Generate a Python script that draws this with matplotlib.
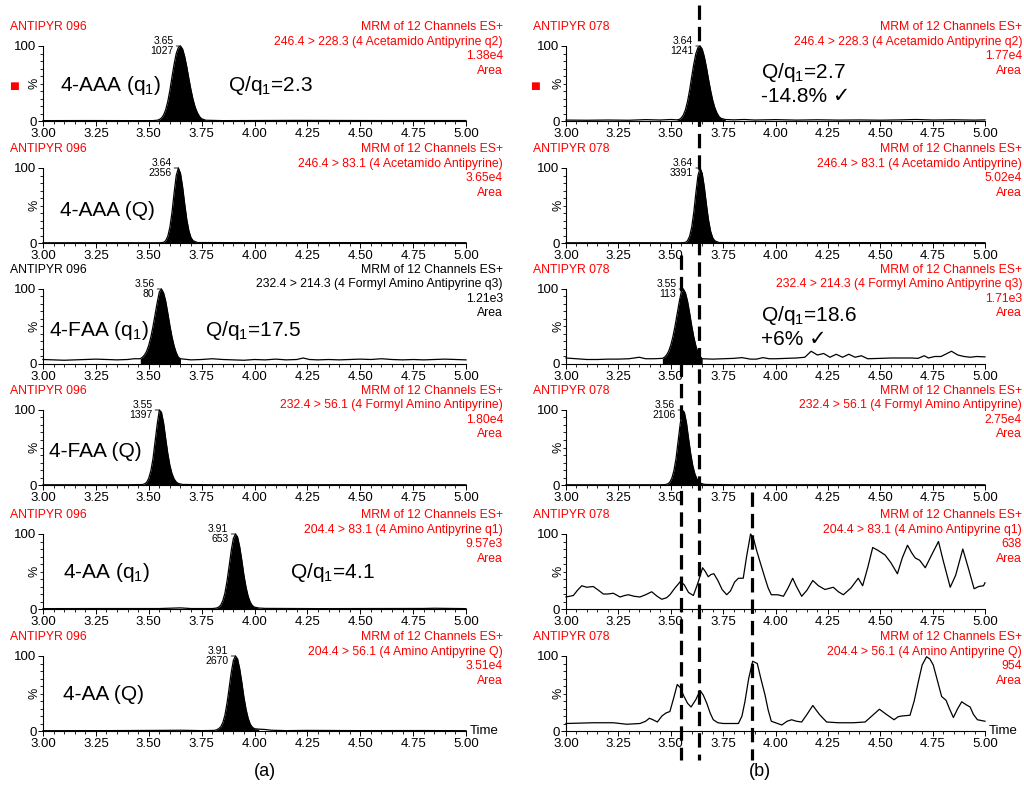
import numpy as np
import matplotlib
matplotlib.use("Agg")
from matplotlib import pyplot as plt
from matplotlib.lines import Line2D
from matplotlib.ticker import MultipleLocator, FixedLocator
from matplotlib.transforms import blended_transform_factory

plt.rcParams['font.family'] = ['Liberation Sans', 'DejaVu Sans']
plt.rcParams['mathtext.fontset'] = 'custom'
plt.rcParams['mathtext.rm'] = 'Liberation Sans'
plt.rcParams['mathtext.default'] = 'regular'

RED = '#ff0000'

# ---- chromatogram traces (time, % intensity) ----
# (a) sample ANTIPYR 096
l1_t = [3.00, 3.20, 3.40, 3.52, 3.54, 3.55, 3.56, 3.57, 3.58, 3.59, 3.60, 3.61, 3.62, 3.63, 3.64, 3.65, 3.66,
        3.67, 3.68, 3.69, 3.70, 3.71, 3.72, 3.73, 3.74, 3.75, 3.77, 3.85, 4.20, 4.60, 5.00]
l1_y = [0.5, 0.6, 0.5, 0.5, 1, 2, 4, 8, 15, 26, 41, 59, 76, 90, 98, 100, 96,
        86, 72, 56, 41, 28, 18, 11, 6, 3, 1, 0.5, 0.8, 0.6, 0.6]
l2_t = [3.00, 3.30, 3.55, 3.57, 3.58, 3.59, 3.60, 3.61, 3.62, 3.63, 3.64, 3.65, 3.66, 3.67, 3.68, 3.69, 3.70,
        3.71, 3.73, 4.00, 4.50, 5.00]
l2_y = [0.3, 0.4, 0.3, 0.8, 3, 9, 21, 41, 67, 90, 100, 93, 75, 52, 31, 16, 7,
        3, 0.6, 0.4, 0.5, 0.4]
l3_t = [3.00, 3.05, 3.10, 3.15, 3.20, 3.25, 3.30, 3.35, 3.40, 3.43, 3.46, 3.47, 3.48, 3.49, 3.50, 3.51, 3.52,
        3.53, 3.54, 3.55, 3.56, 3.57, 3.58, 3.59, 3.60, 3.61, 3.62, 3.63, 3.64, 3.65, 3.70, 3.75, 3.80, 3.85,
        3.90, 3.95, 4.00, 4.05, 4.10, 4.15, 4.20, 4.23, 4.26, 4.30, 4.35, 4.40, 4.45, 4.50, 4.55, 4.60, 4.65,
        4.70, 4.75, 4.80, 4.85, 4.90, 4.95, 5.00]
l3_y = [6, 5.5, 5, 5.5, 6, 6.5, 6, 5.5, 6, 7, 7, 9, 12, 17, 25, 36, 50,
        66, 82, 96, 100, 95, 84, 68, 51, 36, 24, 15, 9, 7, 5.5, 6, 7, 6,
        5.5, 5, 6, 5.5, 6.5, 5.5, 6, 8, 6, 5.5, 6, 5.5, 6, 6.5, 6, 7, 6,
        5.5, 6, 5.5, 6, 6.5, 6, 5.5]
l4_t = [3.00, 3.40, 3.47, 3.48, 3.49, 3.50, 3.51, 3.52, 3.53, 3.54, 3.55, 3.56, 3.57, 3.58, 3.59, 3.60, 3.61,
        3.62, 3.63, 3.64, 3.66, 3.80, 4.40, 5.00]
l4_y = [0.3, 0.3, 0.6, 1.5, 3.5, 9, 19, 35, 58, 81, 100, 97, 83, 62, 42, 26, 15,
        8, 4, 2, 0.7, 0.3, 0.4, 0.3]
l5_t = [3.00, 3.30, 3.55, 3.65, 3.70, 3.80, 3.82, 3.83, 3.84, 3.85, 3.86, 3.87, 3.88, 3.89, 3.90, 3.91, 3.92,
        3.93, 3.94, 3.95, 3.96, 3.97, 3.98, 3.99, 4.00, 4.02, 4.05, 4.30, 4.80, 4.85, 5.00]
l5_y = [0.5, 0.6, 0.6, 1.5, 0.6, 0.6, 1.2, 2.5, 5, 11, 21, 37, 57, 78, 94, 100, 96,
        83, 65, 45, 29, 17, 9, 4.5, 2.5, 1.3, 0.8, 0.5, 0.7, 1, 0.5]
l6_t = [3.00, 3.30, 3.55, 3.65, 3.75, 3.81, 3.82, 3.83, 3.84, 3.85, 3.86, 3.87, 3.88, 3.89, 3.90, 3.91, 3.92,
        3.93, 3.94, 3.95, 3.96, 3.97, 3.98, 3.99, 4.00, 4.02, 4.05, 4.08, 4.15, 4.25, 4.50, 4.80, 5.00]
l6_y = [0.4, 0.5, 0.8, 1, 0.5, 0.8, 1.5, 3, 5.5, 11, 21, 37, 57, 78, 94, 100, 96,
        83, 65, 45, 29, 17, 9, 5, 3, 2.5, 2, 1, 0.5, 0.8, 0.5, 0.6, 0.4]

# (b) sample ANTIPYR 078
r1_t = [3.00, 3.10, 3.20, 3.30, 3.38, 3.45, 3.50, 3.53, 3.54, 3.55, 3.56, 3.57, 3.58, 3.59, 3.60, 3.61, 3.62,
        3.63, 3.64, 3.65, 3.66, 3.67, 3.68, 3.69, 3.70, 3.71, 3.72, 3.73, 3.74, 3.76, 3.80, 3.85, 3.90, 4.00,
        4.10, 4.20, 4.30, 4.40, 4.50, 4.60, 4.67, 4.75, 4.85, 4.95, 5.00]
r1_y = [1.2, 1, 1.3, 1, 1.8, 1.3, 2, 1.5, 2, 4, 8, 15, 26, 41, 59, 76, 90,
        98, 100, 96, 86, 72, 56, 41, 28, 18, 11, 6, 3.5, 2, 1.5, 2, 1.3, 1.8,
        1.2, 1.6, 1.2, 1.4, 1.1, 1.5, 2, 1.3, 1.6, 1.2, 1.5]
r2_t = [3.00, 3.30, 3.55, 3.57, 3.58, 3.59, 3.60, 3.61, 3.62, 3.63, 3.64, 3.65, 3.66, 3.67, 3.68, 3.69, 3.70,
        3.71, 3.73, 4.00, 4.50, 5.00]
r2_y = [0.3, 0.4, 0.3, 0.8, 3, 9, 21, 41, 67, 90, 100, 93, 75, 52, 31, 16, 7,
        3, 0.6, 0.4, 0.5, 0.4]
r3_t = [3.00, 3.05, 3.10, 3.15, 3.20, 3.25, 3.30, 3.35, 3.38, 3.42, 3.46, 3.47, 3.48, 3.49, 3.50, 3.51, 3.52,
        3.53, 3.54, 3.55, 3.56, 3.57, 3.58, 3.59, 3.60, 3.61, 3.62, 3.63, 3.64, 3.65, 3.70, 3.75, 3.80, 3.84,
        3.88, 3.91, 3.94, 3.97, 4.00, 4.05, 4.10, 4.14, 4.17, 4.20, 4.23, 4.26, 4.29, 4.32, 4.35, 4.38, 4.41,
        4.44, 4.50, 4.55, 4.60, 4.65, 4.68, 4.71, 4.73, 4.76, 4.79, 4.84, 4.87, 4.90, 4.93, 4.96, 5.00]
r3_y = [8, 7, 6, 6, 6.5, 6.5, 7, 9, 7, 7, 7.5, 9, 12, 17, 25, 36, 50,
        66, 82, 96, 100, 95, 84, 68, 51, 36, 24, 15, 10, 7, 6.5, 7, 7.5, 8.5,
        6.5, 6.5, 8.5, 7, 7, 7.5, 8, 9, 17, 12, 14, 9, 13, 9, 13, 9, 11,
        7, 7.5, 8, 8, 8, 7.5, 11, 8, 10, 10, 17, 12, 10, 9, 10, 9.5]
r4_t = [3.00, 3.45, 3.475, 3.485, 3.495, 3.505, 3.515, 3.525, 3.535, 3.545, 3.555, 3.565, 3.575, 3.585, 3.595,
        3.605, 3.615, 3.625, 3.635, 3.645, 3.665, 3.80, 4.40, 5.00]
r4_y = [0.3, 0.3, 0.6, 1.5, 3.5, 9, 19, 35, 58, 81, 100, 97, 83, 62, 42,
        26, 15, 8, 4, 2, 0.7, 0.3, 0.4, 0.3]
r5_t = [3.000, 3.035, 3.055, 3.075, 3.099, 3.130, 3.155, 3.178, 3.200, 3.226, 3.258, 3.280, 3.298, 3.325,
        3.353, 3.380, 3.409, 3.435, 3.457, 3.480, 3.496, 3.520, 3.547, 3.565, 3.585, 3.608, 3.630, 3.652,
        3.665, 3.679, 3.692, 3.706, 3.725, 3.745, 3.767, 3.785, 3.805, 3.823, 3.846, 3.862, 3.881, 3.894,
        3.910, 3.926, 3.950, 3.965, 3.980, 4.010, 4.038, 4.060, 4.082, 4.100, 4.125, 4.150, 4.178, 4.205,
        4.236, 4.276, 4.300, 4.324, 4.360, 4.395, 4.416, 4.440, 4.464, 4.490, 4.523, 4.550, 4.582, 4.605,
        4.630, 4.650, 4.667, 4.688, 4.715, 4.745, 4.778, 4.800, 4.834, 4.860, 4.894, 4.920, 4.948, 4.970,
        4.993, 5.000]
r5_y = [16, 18, 25, 31, 29, 30, 25, 20, 20, 21, 16, 18, 19, 17,
        16, 19, 23, 17, 13, 15, 19, 28, 37, 32, 22, 18, 35, 55,
        50, 43, 46, 47, 38, 26, 19, 24, 36, 41, 41, 70, 100, 95,
        78, 63, 41, 28, 19, 19, 17, 28, 41, 30, 17, 25, 38, 31,
        26, 29, 23, 19, 28, 41, 31, 55, 82, 78, 72, 62, 47, 68,
        85, 75, 68, 65, 55, 72, 90, 65, 29, 45, 80, 55, 27, 30,
        31, 35]
r6_t = [3.000, 3.130, 3.226, 3.290, 3.353, 3.380, 3.398, 3.415, 3.436, 3.458, 3.477, 3.496, 3.515, 3.531,
        3.545, 3.560, 3.580, 3.597, 3.620, 3.640, 3.655, 3.672, 3.688, 3.703, 3.725, 3.751, 3.823, 3.840,
        3.854, 3.872, 3.891, 3.913, 3.930, 3.950, 3.965, 3.980, 4.010, 4.030, 4.055, 4.077, 4.100, 4.125,
        4.150, 4.178, 4.210, 4.244, 4.300, 4.372, 4.428, 4.460, 4.496, 4.530, 4.566, 4.585, 4.603, 4.642,
        4.662, 4.682, 4.700, 4.721, 4.737, 4.753, 4.775, 4.793, 4.814, 4.830, 4.849, 4.870, 4.889, 4.910,
        4.929, 4.945, 4.964, 5.000]
r6_y = [10, 11, 11, 9, 10, 13, 17, 15, 12, 20, 24, 26, 45, 62,
        58, 48, 37, 32, 42, 54, 48, 37, 24, 15, 11, 10, 10, 20,
        39, 70, 93, 90, 70, 48, 28, 13, 10, 8, 13, 15, 13, 12,
        22, 34, 22, 12, 11, 11, 12, 20, 29, 22, 15, 19, 20, 21,
        40, 66, 88, 99, 96, 88, 65, 46, 41, 30, 18, 30, 39, 35,
        32, 22, 15, 13]

left_traces = [(l1_t, l1_y), (l2_t, l2_y), (l3_t, l3_y), (l4_t, l4_y), (l5_t, l5_y), (l6_t, l6_y)]
right_traces = [(r1_t, r1_y), (r2_t, r2_y), (r3_t, r3_y), (r4_t, r4_y), (r5_t, r5_y), (r6_t, r6_y)]

# integrated (black filled) peak windows
left_fill = [(3.54, 3.77), (3.57, 3.73), (3.46, 3.65), (3.47, 3.66), (3.80, 4.02), (3.81, 4.02)]
right_fill = [(3.53, 3.76), (3.57, 3.73), (3.46, 3.65), (3.475, 3.665), None, None]

# peak labels: retention time / height
left_peaks = [("3.65", "1027"), ("3.64", "2356"), ("3.56", "80"), ("3.55", "1397"), ("3.91", "653"), ("3.91", "2670")]
right_peaks = [("3.64", "1241"), ("3.64", "3391"), ("3.55", "113"), ("3.56", "2106"), None, None]

transitions = ["246.4 > 228.3 (4 Acetamido Antipyrine q2)",
               "246.4 > 83.1 (4 Acetamido Antipyrine)",
               "232.4 > 214.3 (4 Formyl Amino Antipyrine q3)",
               "232.4 > 56.1 (4 Formyl Amino Antipyrine)",
               "204.4 > 83.1 (4 Amino Antipyrine q1)",
               "204.4 > 56.1 (4 Amino Antipyrine Q)"]
left_areas = ["1.38e4", "3.65e4", "1.21e3", "1.80e4", "9.57e3", "3.51e4"]
right_areas = ["1.77e4", "5.02e4", "1.71e3", "2.75e4", "638", "954"]
left_sample = "ANTIPYR 096"
right_sample = "ANTIPYR 078"

compounds = ["4-AAA (q$_1$)", "4-AAA (Q)", "4-FAA (q$_1$)", "4-FAA (Q)", "4-AA (q$_1$)", "4-AA (Q)"]
compound_x = [0.04, 0.04, 0.015, 0.015, 0.047, 0.047]
compound_y = [0.47, 0.44, 0.45, 0.45, 0.48, 0.48]
left_ratio = ["Q/q$_1$=2.3", None, "Q/q$_1$=17.5", None, "Q/q$_1$=4.1", None]
left_ratio_x = [0.437, 0, 0.383, 0, 0.584, 0]
right_ratio = ["Q/q$_1$=2.7", None, "Q/q$_1$=18.6", None, None, None]
right_dev = ["-14.8% \u2713", None, "+6% \u2713", None, None, None]

# reference retention-time markers across column (b)
rt_marks = [3.55, 3.635, 3.89]
rt_marks_top = [255, 5, 492]   # pixel rows where each dashed line starts

row_tops = [46, 168, 289, 410, 534, 656]
row_h = 75
W, H = 1024, 792

fig = plt.figure(figsize=(10.24, 7.92), dpi=100)


def px_off(px):
    return px * 0.72


def setup_axis(ax):
    ax.set_xlim(3.0, 5.0)
    ax.set_ylim(0, 100)
    for s in ['top', 'right']:
        ax.spines[s].set_visible(False)
    for s in ['left', 'bottom']:
        ax.spines[s].set_linewidth(0.8)
    ticks = np.arange(3.0, 5.01, 0.25)
    ax.xaxis.set_major_locator(FixedLocator(ticks))
    ax.xaxis.set_minor_locator(MultipleLocator(0.05))
    ax.set_xticklabels(["%.2f" % v for v in ticks])
    ax.yaxis.set_major_locator(FixedLocator([0, 100]))
    ax.yaxis.set_minor_locator(MultipleLocator(10))
    ax.tick_params(axis='both', which='major', length=3.5, width=0.7, labelsize=9.5, pad=1.2, direction='out')
    ax.tick_params(axis='both', which='minor', length=2, width=0.6, direction='out')
    ax.set_facecolor('none')
    ax.annotate('%', xy=(0, 0.5), xycoords='axes fraction', xytext=(px_off(-8), 0),
                textcoords='offset points', rotation=90, ha='center', va='center', fontsize=9)


def header(ax, sample, transition, area, color):
    ax.annotate(sample, xy=(0, 1), xycoords='axes fraction', xytext=(px_off(-33), px_off(19)),
                textcoords='offset points', ha='left', va='center', fontsize=8.8, color=color)
    lines = ["MRM of 12 Channels ES+", transition, area, "Area"]
    offs = [19, 4.5, -10, -24.5]
    for txt, dy in zip(lines, offs):
        ax.annotate(txt, xy=(1, 1), xycoords='axes fraction', xytext=(px_off(37), px_off(dy)),
                    textcoords='offset points', ha='right', va='center', fontsize=8.8, color=color)


def draw_trace(ax, t, y, window, peak):
    t = np.asarray(t)
    y = np.asarray(y)
    ax.plot(t, y, color='black', lw=0.9, clip_on=False)
    if window is not None:
        m = (t >= window[0]) & (t <= window[1])
        ax.fill_between(t[m], 0, y[m], color='black', lw=0)
    if peak is not None:
        i = int(np.argmax(y))
        ax.annotate(peak[0] + "\n" + peak[1], xy=(t[i], y[i]), xytext=(px_off(-7), 0),
                    textcoords='offset points', ha='right', va='center', fontsize=7.5,
                    linespacing=1.0,
                    arrowprops=dict(arrowstyle='-', lw=0.6, color='black', shrinkA=0, shrinkB=0))


right_axes = []
for r in range(6):
    bottom = 1 - (row_tops[r] + row_h) / H
    axl = fig.add_axes([43 / W, bottom, 423 / W, row_h / H])
    axr = fig.add_axes([566 / W, bottom, 419 / W, row_h / H])
    right_axes.append(axr)

    setup_axis(axl)
    setup_axis(axr)

    header(axl, left_sample, transitions[r], left_areas[r], 'black' if r == 2 else RED)
    header(axr, right_sample, transitions[r], right_areas[r], RED)

    draw_trace(axl, *left_traces[r], left_fill[r], left_peaks[r])
    draw_trace(axr, *right_traces[r], right_fill[r], right_peaks[r])

    axl.text(compound_x[r], compound_y[r], compounds[r], transform=axl.transAxes,
             ha='left', va='center', fontsize=15)
    if left_ratio[r]:
        axl.text(left_ratio_x[r], compound_y[r], left_ratio[r], transform=axl.transAxes,
                 ha='left', va='center', fontsize=15)
    if right_ratio[r]:
        axr.text(0.465, 0.65, right_ratio[r], transform=axr.transAxes, ha='left', va='center', fontsize=15)
        axr.text(0.465, 0.32, right_dev[r], transform=axr.transAxes, ha='left', va='center', fontsize=15)

    if r == 5:
        for ax in (axl, axr):
            ax.text(1.008, 0, 'Time', transform=ax.transAxes, ha='left', va='center', fontsize=9.5)
    if r == 0:
        # red "selected" square left of the first trace
        for ax, dx in ((axl, -29), (axr, -31)):
            ax.annotate('\u25A0', xy=(0, 0.47), xycoords='axes fraction', xytext=(px_off(dx), 0),
                        textcoords='offset points', ha='center', va='center', fontsize=7.5,
                        color=RED, family=['DejaVu Sans'])

# dashed retention-time guides through column (b)
tr = blended_transform_factory(right_axes[0].transData, fig.transFigure)
for x, top in zip(rt_marks, rt_marks_top):
    fig.add_artist(Line2D([x, x], [1 - top / H, 1 - 760 / H], transform=tr, color='black',
                          lw=2.3, dashes=(4.5, 2.2)))

fig.text(265 / W, 1 - 771 / H, '(a)', ha='center', va='center', fontsize=13)
fig.text(760 / W, 1 - 771 / H, '(b)', ha='center', va='center', fontsize=13)

fig.savefig('out.png', dpi=100)
